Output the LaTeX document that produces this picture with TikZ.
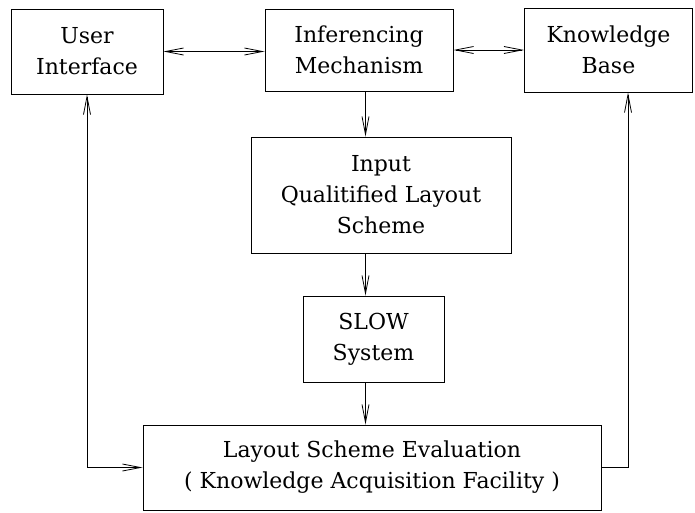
\documentclass[tikz,border=0pt]{standalone}
\usepackage{fontspec}
\setmainfont{DejaVu Serif}
\usetikzlibrary{arrows.meta}
\begin{document}
\begin{tikzpicture}[x=1pt, y=-1pt, font=\fontsize{22}{31}\selectfont]
        \tikzset{
            block/.style={
                draw=black,
                line width=0.9pt,
                align=center,
                inner sep=0pt
            },
            link/.style={draw=black, line width=0.8pt},
            >={Straight Barb[length=18pt, width=7pt]}
        }

        \useasboundingbox (0,0) rectangle (695,512);

        \node[block, minimum width=152, minimum height=85] (ui) at (87,51.5) {User\\Interface};
        \node[block, minimum width=188, minimum height=82] (im) at (359,50) {Inferencing\\Mechanism};
        \node[block, minimum width=168, minimum height=84] (kb) at (608.5,50) {Knowledge\\Base};
        \node[block, minimum width=260, minimum height=116] (qls) at (381,195) {Input\\Qualitified Layout\\Scheme};
        \node[block, minimum width=141, minimum height=86] (slow) at (373.5,339) {SLOW\\System};
        \node[block, minimum width=458, minimum height=85] (eval) at (372,467.5)
            {Layout Scheme Evaluation\\( Knowledge Acquisition Facility )};

        \coordinate (spine) at (365.5,0);
        \coordinate (rside) at (628,0);

        \draw[link, <->] (ui.east) -- (im.west |- ui.east);
        \draw[link, <->] (im.east) -- (kb.west);
        \draw[link, ->] (im.south -| spine) -- (qls.north -| spine);
        \draw[link, ->] (qls.south -| spine) -- (slow.north -| spine);
        \draw[link, ->] (slow.south -| spine) -- (eval.north -| spine);
        \draw[link, <->] (ui.south) |- (eval.west);
        \draw[link, ->] (eval.east) -| (kb.south -| rside);
    \end{tikzpicture}
\end{document}
